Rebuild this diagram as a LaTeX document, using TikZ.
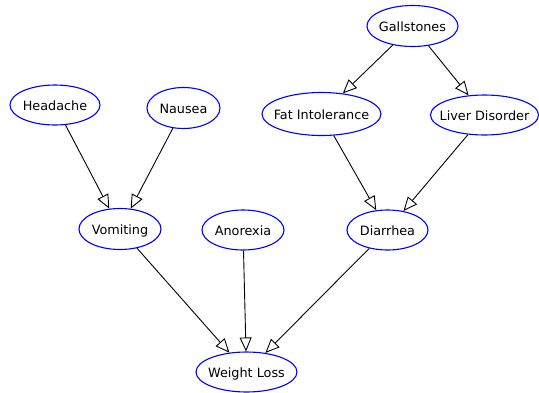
\documentclass[tikz,border=0pt]{standalone}
\usepackage{fontspec}
\setmainfont{DejaVu Sans}
\usetikzlibrary{shapes.geometric,arrows.meta}
\tikzset{
  ev/.style={ellipse, draw=blue, line width=1.1pt, inner sep=0pt, font=\fontsize{12.8}{14}\selectfont},
  dep/.style={draw=black, line width=0.9pt, -{Triangle[open, length=14pt, width=12pt, line width=0.9pt]}}
}
\newcommand{\lbl}[1]{\makebox[0pt]{\vphantom{H}\raisebox{-1.5pt}{\smash{#1}}}}
\begin{document}
\begin{tikzpicture}[x=1pt,y=-1pt]
\useasboundingbox (0,0) rectangle (539,392);
\node[ev, minimum width=90pt, minimum height=40pt] (head) at (55,105) {\lbl{Headache}};
\node[ev, minimum width=73pt, minimum height=41pt] (naus) at (183.5,108) {\lbl{Nausea}};
\node[ev, minimum width=82pt, minimum height=41pt] (vomi) at (120,229) {\lbl{Vomiting}};
\node[ev, minimum width=82pt, minimum height=40pt] (anor) at (243,230) {\lbl{Anorexia}};
\node[ev, minimum width=91pt, minimum height=41pt] (gall) at (412.5,26) {\lbl{Gallstones}};
\node[ev, minimum width=119pt, minimum height=43pt] (fati) at (321.5,114) {\lbl{Fat Intolerance}};
\node[ev, minimum width=108pt, minimum height=40pt] (live) at (484.5,115) {\lbl{Liver Disorder}};
\node[ev, minimum width=81pt, minimum height=40pt] (diar) at (387.5,230) {\lbl{Diarrhea}};
\node[ev, minimum width=101pt, minimum height=40pt] (wlos) at (246.5,372) {\lbl{Weight Loss}};
\draw[dep] (head) -- (vomi);
\draw[dep] (naus) -- (vomi);
\draw[dep] (gall) -- (fati);
\draw[dep] (gall) -- (live);
\draw[dep] (fati) -- (diar);
\draw[dep] (live) -- (diar);
\draw[dep] (vomi) -- (wlos);
\draw[dep] (anor) -- (wlos);
\draw[dep] (diar) -- (wlos);
\end{tikzpicture}
\end{document}
